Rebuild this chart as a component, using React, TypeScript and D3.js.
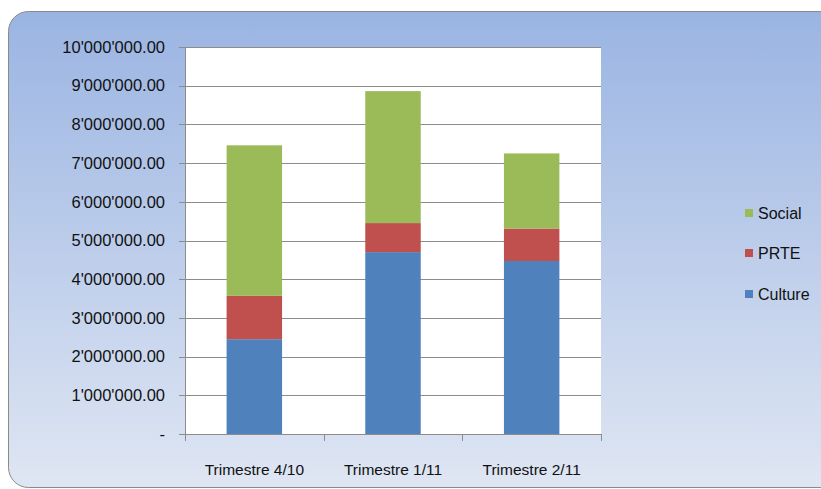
import React from "react";
import * as d3 from "d3";

const categories = ["Trimestre 4/10", "Trimestre 1/11", "Trimestre 2/11"];
const seriesNames = ["Culture", "PRTE", "Social"];
const culture = [2450000, 4700000, 4470000];
const prte = [1120000, 750000, 840000];
const social = [3890000, 3410000, 1940000];
const yTicks = [0, 1000000, 2000000, 3000000, 4000000, 5000000, 6000000, 7000000, 8000000, 9000000, 10000000];
const colors = ["#4f81bd", "#c0504d", "#9bbb59"];

function fmt(v: number): string {
  if (v === 0) return "-";
  const s = d3.format(",.2f")(v);
  return s.replace(/,/g, "'");
}

export default function App() {
  const W = 821, H = 489;
  const left = 185, right = 601, top = 47, bottom = 434;
  const band = d3.scaleBand<string>().domain(categories).range([left, right]);
  const y = d3.scaleLinear().domain([0, 10000000]).range([bottom, top]);
  const rows = categories.map((c, i) => ({ cat: c, Culture: culture[i], PRTE: prte[i], Social: social[i] }));
  const stacked = d3.stack<any>().keys(seriesNames)(rows);
  const font = "'Liberation Sans', Arial, sans-serif";
  const bw = band.bandwidth() / 2.5;
  const legendItems = [
    { name: "Social", color: colors[2], y: 213 },
    { name: "PRTE", color: colors[1], y: 253 },
    { name: "Culture", color: colors[0], y: 294 },
  ];
  return (
    <svg width={W} height={H} style={{ position: "absolute", left: 0, top: 0 }} fontFamily={font}>
      <defs>
        <linearGradient id="bg" x1="0" y1="0" x2="0" y2="1">
          <stop offset="0" stopColor="#9ab4e2" />
          <stop offset="1" stopColor="#dfe6f3" />
        </linearGradient>
      </defs>
      <rect x={8.5} y={11.5} width={840} height={476} rx={20} ry={20} fill="url(#bg)" stroke="#8a8a8a" strokeWidth={1} />
      <rect x={left} y={top} width={right - left} height={bottom - top} fill="#ffffff" />
      {yTicks.map((t) => (
        <g key={t}>
          {t > 0 && <line x1={left} x2={right} y1={Math.round(y(t)) + 0.5} y2={Math.round(y(t)) + 0.5} stroke="#8c8c8c" strokeWidth={1} />}
          <line x1={left - 6} x2={left} y1={Math.round(y(t)) + 0.5} y2={Math.round(y(t)) + 0.5} stroke="#8c8c8c" />
          <text x={165} y={y(t)} dy="0.35em" textAnchor="end" fontSize={16.5} fill="#111">{fmt(t)}</text>
        </g>
      ))}
      {stacked.map((s, si) => (
        <g key={s.key} fill={colors[si]}>
          {s.map((d, i) => (
            <rect key={i} x={band(categories[i])! + (band.bandwidth() - bw) / 2} width={bw} y={y(d[1])} height={y(d[0]) - y(d[1])} />
          ))}
        </g>
      ))}
      <line x1={left + 0.5} x2={left + 0.5} y1={top} y2={bottom} stroke="#8c8c8c" />
      <line x1={left} x2={right} y1={bottom + 0.5} y2={bottom + 0.5} stroke="#8c8c8c" />
      {[...categories.map((c) => band(c)!), right].map((p, i) => (
        <line key={i} x1={Math.round(p) + 0.5} x2={Math.round(p) + 0.5} y1={bottom} y2={bottom + 7} stroke="#8c8c8c" />
      ))}
      {categories.map((c) => (
        <text key={c} x={band(c)! + band.bandwidth() / 2} y={470} dy="0.35em" textAnchor="middle" fontSize={15.5} fill="#111">{c}</text>
      ))}
      {legendItems.map((l) => (
        <g key={l.name}>
          <rect x={745} y={l.y - 4} width={8} height={8} fill={l.color} />
          <text x={758} y={l.y} dy="0.35em" fontSize={16} fill="#111">{l.name}</text>
        </g>
      ))}
    </svg>
  );
}
